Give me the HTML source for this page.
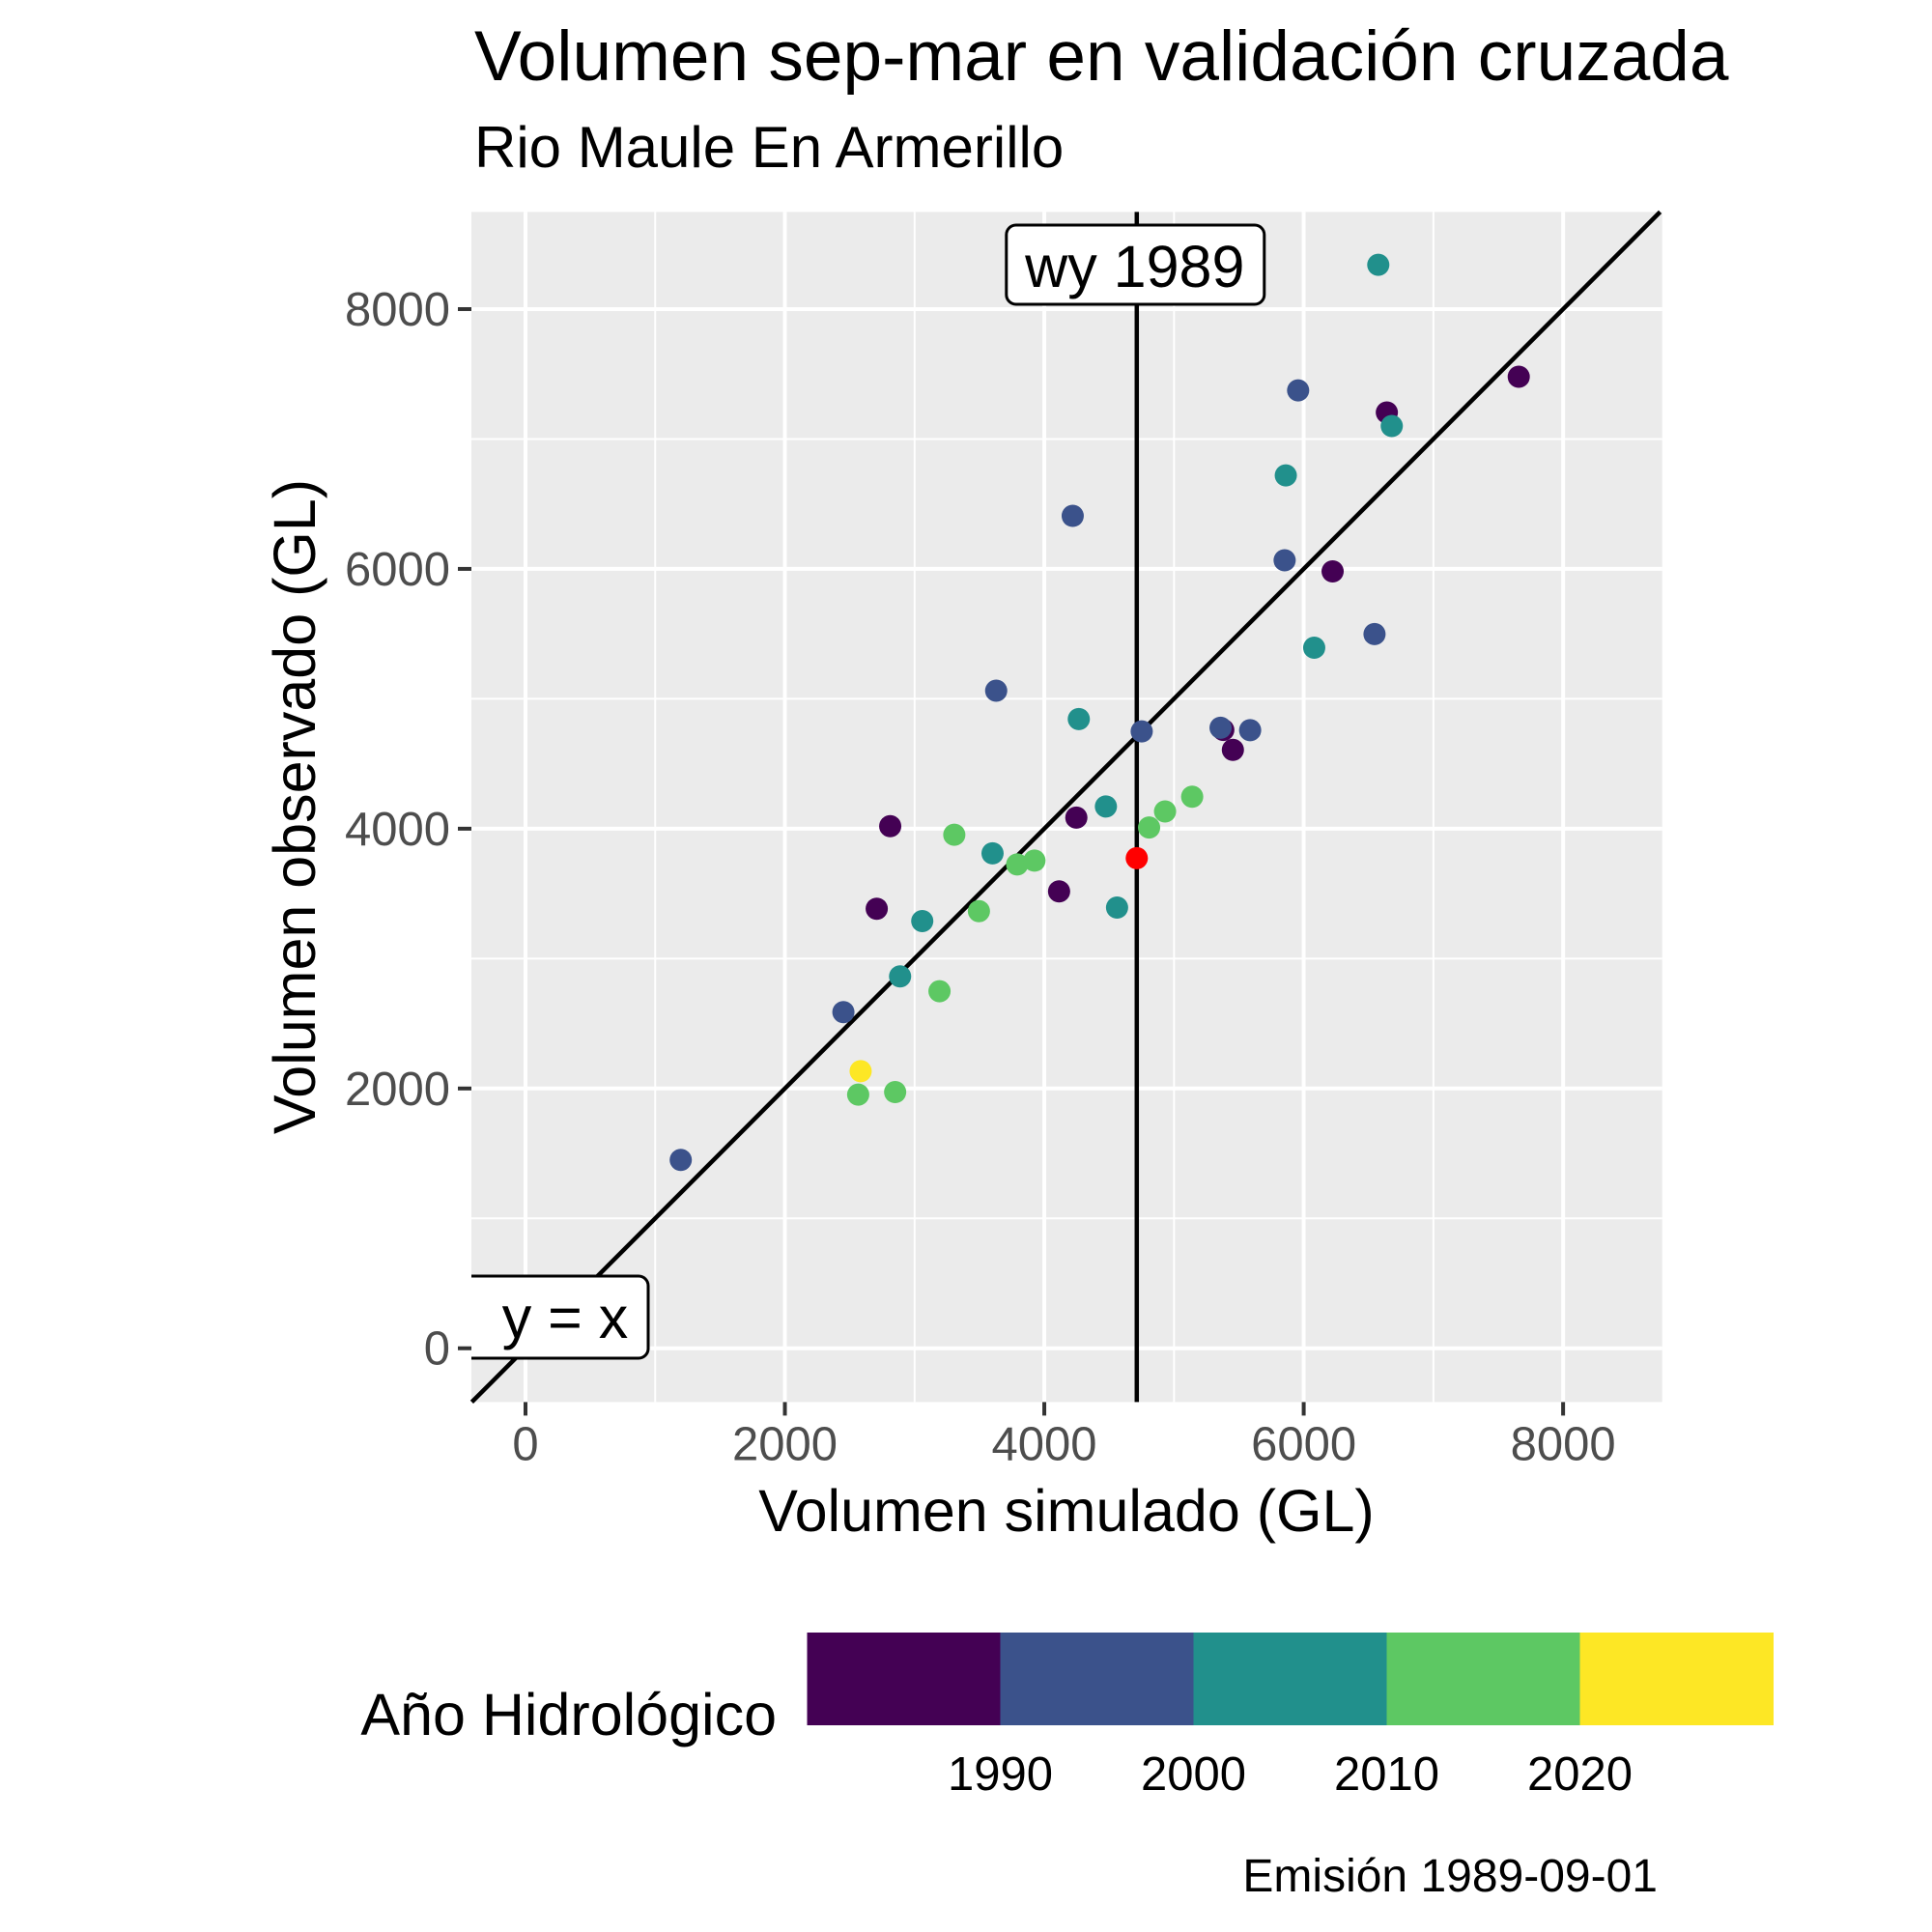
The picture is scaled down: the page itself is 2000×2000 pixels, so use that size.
<!DOCTYPE html>
<html><head><meta charset="utf-8"><style>
html,body{margin:0;padding:0;background:#fff;}
svg{display:block;font-family:"Liberation Sans",Arial,sans-serif;}
</style></head><body>
<svg id="chart" width="2000" height="2000" viewBox="0 0 2000 2000">
<text x="491" y="83" font-size="73" fill="#000">Volumen sep-mar en validación cruzada</text>
<text x="491" y="173" font-size="60" fill="#000">Rio Maule En Armerillo</text>
<rect x="488" y="219.4" width="1232.7" height="1232" fill="#EBEBEB"/>
<g id="grid"></g>
<g id="axes"></g>
<g id="marks"></g>
<text x="1104" y="1585" font-size="61" text-anchor="middle">Volumen simulado (GL)</text>
<text transform="translate(326,835) rotate(-90)" font-size="61" text-anchor="middle">Volumen observado (GL)</text>
<text x="804" y="1796" font-size="61" text-anchor="end">Año Hidrológico</text>
<g id="legend"></g>
<text x="1716" y="1958" font-size="48" text-anchor="end">Emisión 1989-09-01</text>
</svg>
<script>
const xVals=[1197,2451,2584,2565,2850,2708,2812,2888,3059,3192,3306,3496,3601,3629,3791,3924,4114,4247,4266,4219,4475,4561,4713,4751,4808,4931,5140,5380,5359,5454,5587,5853,5862,5957,6081,6223,6546,6575,6641,6679,7658];
const yVals=[1450,2588,2133,1953,1972,3384,4019,2863,3289,2749,3953,3365,3810,5062,3725,3754,3517,4085,4844,6408,4171,3393,3773,4749,4009,4133,4246,4760,4777,4607,4758,6066,6720,7374,5393,5981,5498,8341,7204,7100,7479];
const groups=[1,1,4,3,3,0,0,2,2,3,3,3,2,1,3,3,0,0,2,1,2,2,-1,1,3,3,3,0,1,0,1,1,2,1,2,0,1,2,0,2,0];
const xTicks=[0,2000,4000,6000,8000];
const yTicks=[0,2000,4000,6000,8000];
const legendLabels=["1990","2000","2010","2020"];
const legendColors=["#440154","#3B528B","#21908C","#5DC863","#FDE725"];
const issueX=4713;
const NS="http://www.w3.org/2000/svg";
const X0=488,X1=1720.7,Y0=1451.4,Y1=219.4;
const xmin=-417,xmax=8764,ymin=-414,ymax=8748;
const sx=v=>X0+(v-xmin)/(xmax-xmin)*(X1-X0);
const sy=v=>Y0-(v-ymin)/(ymax-ymin)*(Y0-Y1);
function mk(tag,attrs,parent){const e=document.createElementNS(NS,tag);for(const k in attrs)e.setAttribute(k,attrs[k]);parent.appendChild(e);return e;}
const grid=document.getElementById('grid'),axes=document.getElementById('axes'),marks=document.getElementById('marks'),legend=document.getElementById('legend');
for(let i=0;i<xTicks.length;i++){
  const t=xTicks[i];
  if(i>0){const m=(t+xTicks[i-1])/2;const l=mk('line',{x1:sx(m),x2:sx(m),y1:Y1,y2:Y0,stroke:'#fff','stroke-width':2},grid);}
  const g=mk('line',{x1:sx(t),x2:sx(t),y1:Y1,y2:Y0,stroke:'#fff','stroke-width':4},grid);
  
  mk('line',{x1:sx(t),x2:sx(t),y1:Y0,y2:Y0+14,stroke:'#333','stroke-width':4},axes);
  const tx=mk('text',{x:sx(t),y:Y0+60,'font-size':49,'text-anchor':'middle',fill:'#4D4D4D'},axes);tx.textContent=t;
  
}
{const m=xTicks[xTicks.length-1]+1000;const l=mk('line',{x1:sx(m),x2:sx(m),y1:Y1,y2:Y0,stroke:'#fff','stroke-width':2},grid);}
for(let i=0;i<yTicks.length;i++){
  const t=yTicks[i];
  if(i>0){const m=(t+yTicks[i-1])/2;const l=mk('line',{x1:X0,x2:X1,y1:sy(m),y2:sy(m),stroke:'#fff','stroke-width':2},grid);}
  const g=mk('line',{x1:X0,x2:X1,y1:sy(t),y2:sy(t),stroke:'#fff','stroke-width':4},grid);
  
  mk('line',{x1:X0-14,x2:X0,y1:sy(t),y2:sy(t),stroke:'#333','stroke-width':4},axes);
  const tx=mk('text',{x:X0-22,y:sy(t)+17,'font-size':49,'text-anchor':'end',fill:'#4D4D4D'},axes);tx.textContent=t;
  
}
{const m=yTicks[yTicks.length-1]+1000;const l=mk('line',{x1:X0,x2:X1,y1:sy(m),y2:sy(m),stroke:'#fff','stroke-width':2},grid);}
const lo=Math.max(xmin,ymin),hi=Math.min(xmax,ymax);
const idl=mk('line',{x1:sx(lo),y1:sy(lo),x2:sx(hi),y2:sy(hi),stroke:'#000','stroke-width':4.5},marks);

const vl=mk('line',{x1:sx(issueX),x2:sx(issueX),y1:Y1,y2:Y0,stroke:'#000','stroke-width':4.5},marks);

for(let i=0;i<xVals.length;i++){
  const c=mk('circle',{cx:sx(xVals[i]),cy:sy(yVals[i]),r:11.5,fill:groups[i]<0?'#FF0000':legendColors[groups[i]]},marks);
  
}
const lb1=mk('rect',{x:sx(issueX)-135,y:233,width:267,height:82,rx:10,fill:'#fff',stroke:'#000','stroke-width':3},marks);

const t1=mk('text',{x:sx(issueX)-2,y:297,'font-size':61,'text-anchor':'middle'},marks);t1.textContent='wy 1989';

const lb2=mk('rect',{x:440,y:1321,width:231,height:85,rx:10,fill:'#fff',stroke:'#000','stroke-width':3},marks);

const t2=mk('text',{x:585,y:1385,'font-size':61,'text-anchor':'middle'},marks);t2.textContent='y = x';

const cover=mk('rect',{x:0,y:1300,width:488,height:130,fill:'#fff'},marks);

const t0=mk('text',{x:X0-22,y:sy(0)+17,'font-size':49,'text-anchor':'end',fill:'#4D4D4D'},marks);t0.textContent='0';

mk('line',{x1:X0-14,x2:X0,y1:sy(0),y2:sy(0),stroke:'#333','stroke-width':4},marks);
const LX=835.5,LW=200;
for(let i=0;i<legendColors.length;i++){
  const r=mk('rect',{x:LX+i*LW,y:1690,width:LW+0.5,height:96,fill:legendColors[i]},legend);
  
}
for(let i=0;i<legendLabels.length;i++){
  const t=mk('text',{x:LX+(i+1)*LW,y:1853,'font-size':49,'text-anchor':'middle'},legend);t.textContent=legendLabels[i];
  
}
</script>
</body></html>
